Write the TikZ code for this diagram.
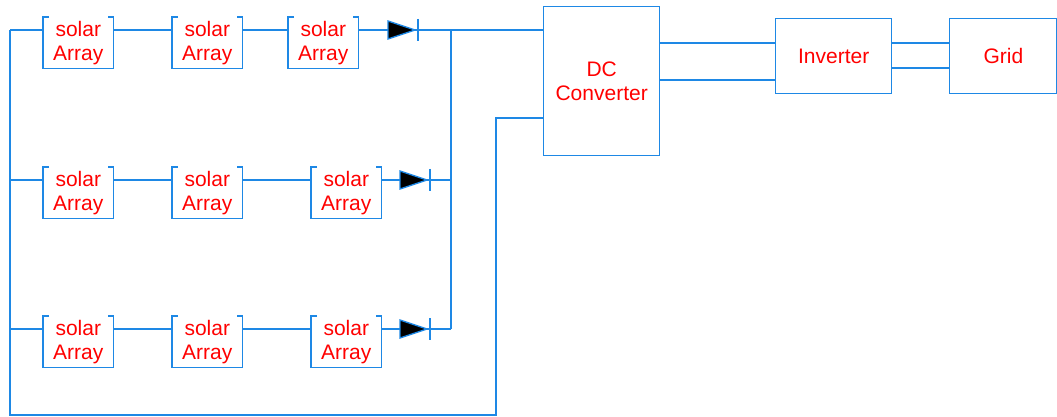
\documentclass[tikz,border=0pt]{standalone}
\usepackage{fontspec}
\setmainfont{Liberation Sans}
\usetikzlibrary{calc}
\definecolor{wireblue}{RGB}{30,136,229}

\tikzset{
  wire/.style={wireblue, line width=1pt},
  block/.style={draw=wireblue, line width=1pt, text=red, align=center, inner sep=0pt,
    anchor=north west, font=\fontsize{15.75}{18}\selectfont},
  panel/.style={text=red, align=center, inner sep=0pt, minimum width=52.5pt,
    minimum height=38.25pt, anchor=north west, font=\fontsize{15.75}{18}\selectfont},
}
% open-topped frame of a solar array
\newcommand{\bracketbox}[1]{\draw[wire] (#1.north west) ++(6,0) -| (#1.south west) -| (#1.north east) -- ++(-6,0);}
% diode: left tip and bar
\newcommand{\pvdiode}[2]{%
  \coordinate (dA#1) at (#2);
  \coordinate (dK#1) at ($(#2)+(30,0)$);
  \filldraw[wire, fill=black] (dA#1) ++(0,-9) -- ++(27,9) -- ++(-27,9) -- cycle;
  \draw[wire] (dK#1) ++(0,-11) -- ++(0,22);
}

\begin{document}
\begin{tikzpicture}[x=0.75pt,y=-0.75pt]
\useasboundingbox (0,0) rectangle (1057,417);

% strings of solar arrays
\foreach \r/\y/\xc/\xd in {1/17/288/388, 2/167/311/400, 3/316/311/400} {
  \node[panel] (a\r1) at (43,\y) {solar\\Array};
  \node[panel] (a\r2) at (172,\y) {solar\\Array};
  \node[panel] (a\r3) at (\xc,\y) {solar\\Array};
  \bracketbox{a\r1}
  \bracketbox{a\r2}
  \bracketbox{a\r3}
  \coordinate (w\r) at (10,\y+13);
  \draw[wire] (w\r) -- (a\r1.west |- w\r) (a\r1.east |- w\r) -- (a\r2.west |- w\r)
    (a\r2.east |- w\r) -- (a\r3.west |- w\r) (a\r3.east |- w\r) -- ($(\xd,\y+13)+(30,0)$);
  \pvdiode{\r}{\xd,\y+13}
}

% converter, inverter, grid
\node[block, minimum width=87pt, minimum height=111.75pt] (dc) at (543,6) {DC\\Converter};
\node[block, minimum width=87pt, minimum height=56.25pt] (inv) at (775,18) {Inverter};
\node[block, minimum width=80.5pt, minimum height=56.25pt] (grid) at (949,18) {Grid};

\coordinate (jt) at (451,30);
\coordinate (lb) at (10,415);
\coordinate (rt) at (496,118);
\coordinate (y43) at (0,43);
\coordinate (y80) at (0,80);
\coordinate (y68) at (0,68);

% buses
\draw[wire] (dK1) -- (dc.west |- w1);
\draw[wire] (jt) -- (jt |- w3);
\draw[wire] (dK2) -- (jt |- w2);
\draw[wire] (dK3) -- (jt |- w3);
\draw[wire] (w1) -- (lb) -| (rt) -- (dc.west |- rt);

% links
\draw[wire] (dc.east |- y43) -- (inv.west |- y43);
\draw[wire] (dc.east |- y80) -- (inv.west |- y80);
\draw[wire] (inv.east |- y43) -- (grid.west |- y43);
\draw[wire] (inv.east |- y68) -- (grid.west |- y68);
\end{tikzpicture}
\end{document}
